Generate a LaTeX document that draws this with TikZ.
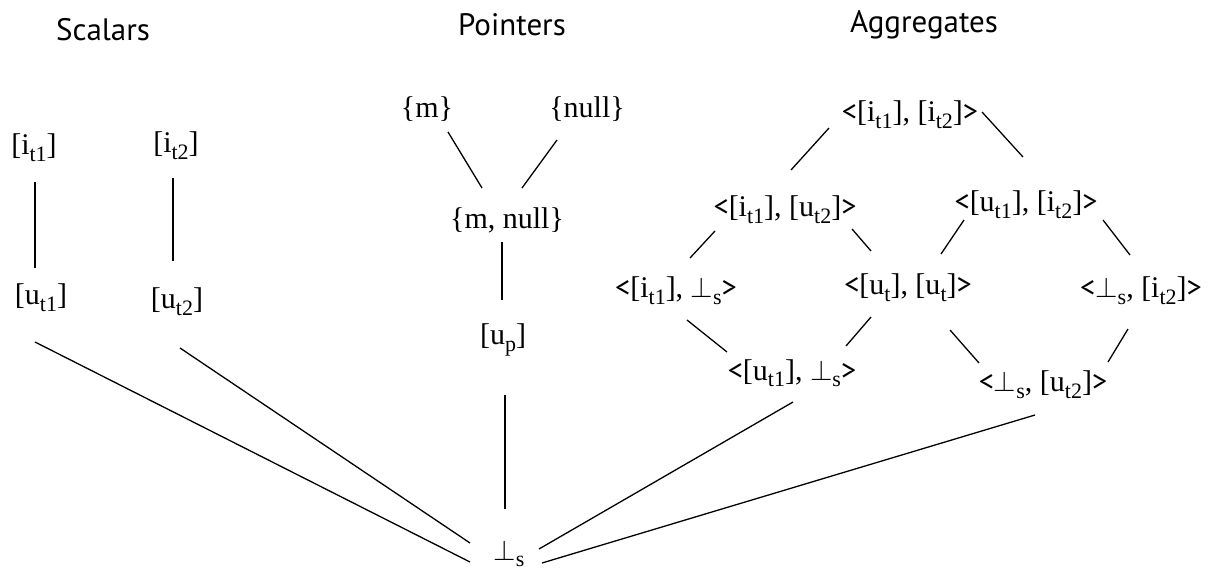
\documentclass[tikz,border=0pt]{standalone}
\usepackage{fontspec}
\setmainfont{Liberation Serif}
\newfontfamily\hdfont{PT Sans}
\usetikzlibrary{calc}
\newcommand{\Txt}{\fontsize{15}{18}\selectfont}
\newcommand{\Hd}{\hdfont\fontsize{15.5}{18}\selectfont}
\newcommand{\Sub}[1]{\raisebox{-0.23em}{\fontsize{11}{12}\selectfont #1}}
\newcommand{\Lang}{{\hdfont<}}
\newcommand{\Rang}{{\hdfont>}}
\newcommand{\Bs}{$\perp$\Sub{s}}

\begin{document}
\begin{tikzpicture}[x=0.5pt,y=-0.5pt,
    lbl/.style={inner sep=0pt, anchor=base, font=\Txt},
    hd/.style={inner sep=0pt, anchor=base, font=\Hd},
    link/.style={draw, line width=0.65pt}]
  \useasboundingbox (0,0) rectangle (1209,571);
  % column titles
  \node[hd] (hS) at (103,41) {Scalars};
  \node[hd] (hP) at (512,36) {Pointers};
  \node[hd] (hA) at (924,33) {Aggregates};
  % scalars
  \node[lbl] (it1) at (34,155) {[i\Sub{t1}]};
  \node[lbl] (it2) at (176,153) {[i\Sub{t2}]};
  \node[lbl] (ut1) at (41,305) {[u\Sub{t1}]};
  \node[lbl] (ut2) at (177,309) {[u\Sub{t2}]};
  % pointers
  \node[lbl] (m) at (427,118) {\{m\}};
  \node[lbl] (nl) at (587,118) {\{null\}};
  \node[lbl] (mn) at (507,229) {\{m, null\}};
  \node[lbl] (up) at (503,345) {[u\Sub{p}]};
  % aggregates
  \node[lbl] (a1) at (910,122) {\Lang[i\Sub{t1}], [i\Sub{t2}]\Rang};
  \node[lbl] (a2) at (785,217) {\Lang[i\Sub{t1}], [u\Sub{t2}]\Rang};
  \node[lbl] (a3) at (1026,212) {\Lang[u\Sub{t1}], [i\Sub{t2}]\Rang};
  \node[lbl] (a4) at (676,298) {\Lang[i\Sub{t1}], \Bs\Rang};
  \node[lbl] (a5) at (908,295) {\Lang[u\Sub{t}], [u\Sub{t}]\Rang};
  \node[lbl] (a6) at (1141,298) {\Lang\Bs, [i\Sub{t2}]\Rang};
  \node[lbl] (a7) at (792,380) {\Lang[u\Sub{t1}], \Bs\Rang};
  \node[lbl] (a8) at (1043,392) {\Lang\Bs, [u\Sub{t2}]\Rang};
  % bottom
  \node[lbl] (bot) at (509,560) {\Bs};
  % order lines
  \foreach \a/\ax/\ay/\b/\bx/\by in {it1/1/27/ut1/-6/-37, it2/-3/25/ut2/-4/-48,
      ut1/-6/37/bot/-39/2, ut2/3/39/bot/-39/-17,
      m/21/14/mn/-25/-41, nl/-30/22/mn/15/-41, mn/-5/13/up/-1/-45, up/2/50/bot/-4/-51,
      a1/-81/6/a2/6/-47, a1/72/-10/a3/-3/-55,
      a2/-70/14/a4/14/-40, a2/67/12/a5/-37/-44,
      a3/-62/8/a5/33/-41, a3/77/8/a6/-11/-43,
      a4/11/22/a7/-65/-28, a5/-37/22/a7/54/-34,
      a5/42/35/a8/-64/-29, a6/-13/31/a8/65/-30,
      a7/1/22/bot/30/-11, a8/-8/23/bot/33/3}{
    \draw[link] ($(\a.base)+(\ax,\ay)$) -- ($(\b.base)+(\bx,\by)$);
  }
\end{tikzpicture}
\end{document}
